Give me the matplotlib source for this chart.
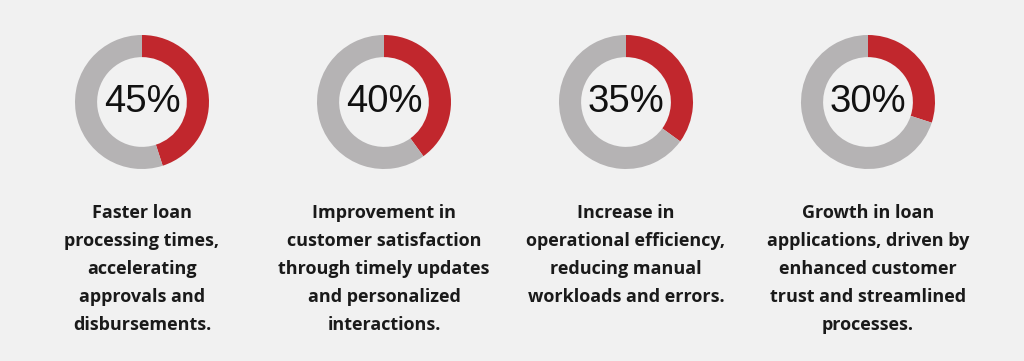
import matplotlib
matplotlib.use("Agg")
import matplotlib.pyplot as plt

percents = [45, 40, 35, 30]
labels = [
    "Faster loan\nprocessing times,\naccelerating\napprovals and\ndisbursements.",
    "Improvement in\ncustomer satisfaction\nthrough timely updates\nand personalized\ninteractions.",
    "Increase in\noperational efficiency,\nreducing manual\nworkloads and errors.",
    "Growth in loan\napplications, driven by\nenhanced customer\ntrust and streamlined\nprocesses.",
]

W, H = 1024, 361
bg = "#f1f1f1"
red = "#c1272d"
gray = "#b5b3b4"

fig = plt.figure(figsize=(W / 100, H / 100), dpi=100, facecolor=bg)

centers_x = [142, 384, 626, 868]
cy = 102
R = 67

for i, (p, lab) in enumerate(zip(percents, labels)):
    cx = centers_x[i]
    ax = fig.add_axes([(cx - R) / W, 1 - (cy + R) / H, 2 * R / W, 2 * R / H])
    ax.pie([p, 100 - p], colors=[red, gray], startangle=90, counterclock=False,
           radius=1, wedgeprops=dict(width=0.33, linewidth=0))
    ax.set_xlim(-1, 1)
    ax.set_ylim(-1, 1)
    ax.set_aspect("equal")
    ax.axis("off")
    ax.text(0, 0, f"{p}%", ha="center", va="center", fontsize=27.5,
            family="Liberation Sans", color="#111111")
    fig.text(cx / W, 1 - 204 / H, lab, ha="center", va="top", fontsize=13,
             fontweight="bold", family="Open Sans", color="#1a1a1a",
             linespacing=1.71)

fig.savefig("out.png", dpi=100, facecolor=bg)
